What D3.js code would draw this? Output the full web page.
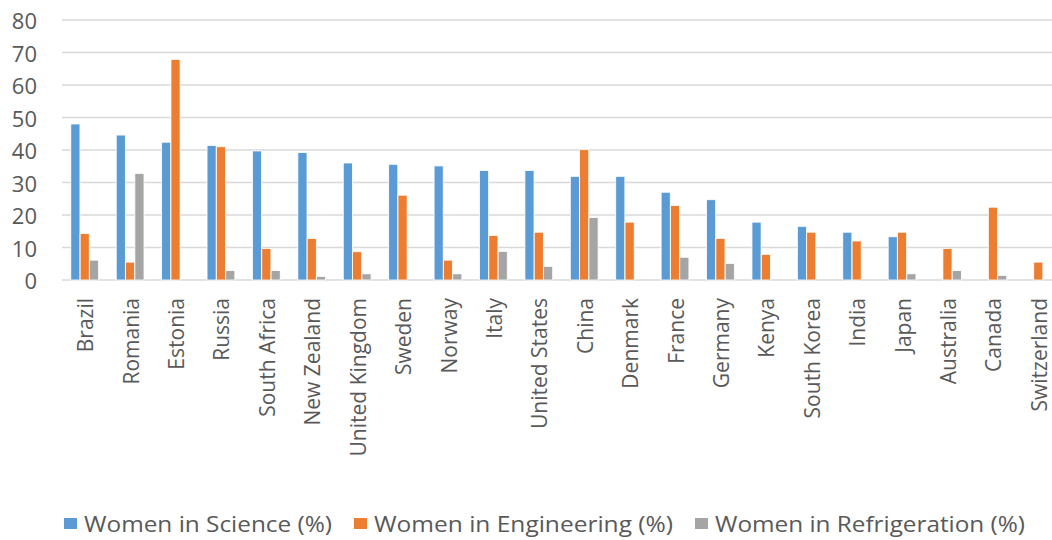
<!DOCTYPE html>
<html>
<head>
<meta charset="utf-8">
<script src="https://cdn.jsdelivr.net/npm/d3@7"></script>
<style>
  html, body { margin: 0; padding: 0; background: #fff; }
  svg { display: block; }
</style>
</head>
<body>
<div id="chart"></div>
<script>
const countries = ['Brazil', 'Romania', 'Estonia', 'Russia', 'South Africa', 'New Zealand',
  'United Kingdom', 'Sweden', 'Norway', 'Italy', 'United States', 'China', 'Denmark',
  'France', 'Germany', 'Kenya', 'South Korea', 'India', 'Japan', 'Australia', 'Canada', 'Switzerland'];
const seriesNames = ['Women in Science (%)', 'Women in Engineering (%)', 'Women in Refrigeration (%)'];
const science = [48, 44.6, 42.4, 41.4, 39.7, 39.2, 36, 35.6, 35.1, 33.7, 33.7, 31.9, 31.9,
  27, 24.7, 17.8, 16.5, 14.7, 13.3, null, null, null];
const engineering = [14.3, 5.5, 67.9, 41, 9.7, 12.8, 8.7, 26.1, 6.1, 13.7, 14.7, 40.1, 17.8,
  22.9, 12.8, 7.9, 14.7, 12, 14.7, 9.7, 22.4, 5.5];
const refrigeration = [6.1, 32.8, null, 2.9, 2.9, 1.1, 1.9, null, 1.9, 8.8, 4.2, 19.2, null,
  7, 5.1, null, null, null, 1.9, 2.9, 1.4, null];
const yTicks = [0, 10, 20, 30, 40, 50, 60, 70, 80];

const colors = ['#5b9bd5', '#ed7d31', '#a5a5a5'];
const seriesValues = [science, engineering, refrigeration];

const width = 1052;
const height = 540;
const textColor = '#595959';
const font = '"Open Sans", sans-serif';

const svg = d3.select('#chart').append('svg')
  .attr('width', width)
  .attr('height', height);

const x = d3.scaleBand()
  .domain(countries)
  .range([62, 1061])
  .paddingInner(0.38)
  .paddingOuter(0.19);

const xSub = d3.scaleBand()
  .domain(seriesNames)
  .range([0, x.bandwidth()])
  .padding(0.02);

const y = d3.scaleLinear()
  .domain([0, 80])
  .range([280, 20]);

// gridlines
svg.append('g')
  .selectAll('line')
  .data(yTicks)
  .join('line')
  .attr('x1', 62)
  .attr('x2', width)
  .attr('y1', d => y(d))
  .attr('y2', d => y(d))
  .attr('stroke', '#d9d9d9')
  .attr('stroke-width', 1.3);

// y labels
svg.append('g')
  .selectAll('text')
  .data(yTicks)
  .join('text')
  .attr('x', 37)
  .attr('y', d => y(d))
  .attr('dy', '0.42em')
  .attr('text-anchor', 'end')
  .attr('fill', textColor)
  .style('font-family', font)
  .style('font-size', '22px')
  .text(d => d);

// bars
const rows = countries.map((c, i) => ({
  country: c,
  values: seriesNames.map((s, k) => ({series: s, k, value: seriesValues[k][i]}))
}));

svg.append('g')
  .selectAll('g')
  .data(rows)
  .join('g')
  .attr('transform', d => `translate(${x(d.country)},0)`)
  .selectAll('rect')
  .data(d => d.values.filter(v => v.value != null))
  .join('rect')
  .attr('x', d => xSub(d.series))
  .attr('width', xSub.bandwidth())
  .attr('y', d => y(d.value))
  .attr('height', d => y(0) - y(d.value))
  .attr('fill', d => colors[d.k])
  .attr('stroke', '#fff')
  .attr('stroke-width', 0.8);

// category labels
svg.append('g')
  .selectAll('text')
  .data(countries)
  .join('text')
  .attr('transform', d => `translate(${x(d) + x.bandwidth() / 2 + 1},298) rotate(-90)`)
  .attr('dy', '0.36em')
  .attr('text-anchor', 'end')
  .attr('fill', textColor)
  .style('font-family', font)
  .style('font-size', '21px')
  .text(d => d);

// legend
const legendX = [64, 354, 695];
const legendW = [248, 299, 310];
const legend = svg.append('g')
  .selectAll('g')
  .data(seriesNames)
  .join('g')
  .attr('transform', (d, i) => `translate(${legendX[i]},524)`);

legend.append('rect')
  .attr('x', 0)
  .attr('y', -6)
  .attr('width', 13)
  .attr('height', 11)
  .attr('fill', (d, i) => colors[i]);

legend.append('text')
  .attr('x', 20)
  .attr('dy', '0.36em')
  .attr('fill', textColor)
  .attr('textLength', (d, i) => legendW[i])
  .attr('lengthAdjust', 'spacingAndGlyphs')
  .style('font-family', font)
  .style('font-size', '21px')
  .text(d => d);
</script>
</body>
</html>
